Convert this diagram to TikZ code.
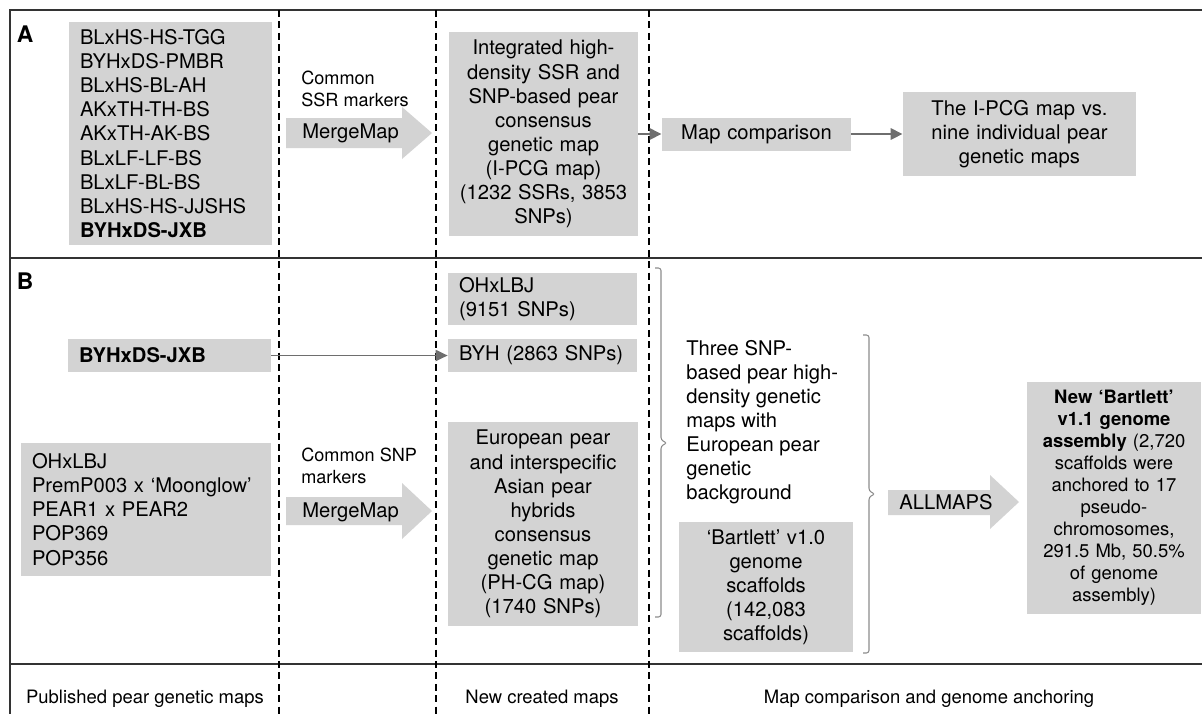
\documentclass[tikz,border=0pt]{standalone}
\usepackage{fontspec}
\setmainfont{TeX Gyre Heros}
\usetikzlibrary{arrows.meta}
\definecolor{cajagris}{HTML}{D3D3D3}
\definecolor{flechagris}{HTML}{6E6E6E}

\begin{document}
\begin{tikzpicture}[
        x=0.02cm, y=-0.02cm,
        caja/.style={fill=cajagris, inner xsep=0.22cm, inner ysep=0pt, font=\fontsize{11.5}{13.7}\selectfont},
        lista/.style={caja, align=left},
        centro/.style={caja, align=center, inner xsep=0.1cm},
        gruesa/.style={fill=cajagris},
        flecha/.style={-{Triangle[length=2.4mm,width=2.2mm]}, line width=1.6pt, draw=flechagris},
        rotulo/.style={font=\fontsize{10.3}{12.5}\selectfont, align=left, inner sep=0pt},
        grande/.style={font=\fontsize{11.5}{13.7}\selectfont, inner sep=0pt},
        marco/.style={line width=1.1pt, draw=black!80},
        divisor/.style={line width=0.9pt, dash pattern=on 4pt off 2.5pt},
        llave/.style={draw=black!45, line width=0.6pt, rounded corners=1.5pt},
        pie/.style={font=\fontsize{10.5}{12.5}\selectfont, inner sep=0pt},
        panel/.style={font=\bfseries\fontsize{13}{13}\selectfont, inner sep=0pt}
    ]
        \useasboundingbox (0,0) rectangle (1202,714);

        % marco y columnas
        \draw[marco] (1202,10) -- (10,10) -- (10,714);
        \draw[marco] (10,258) -- (1202,258);
        \draw[marco] (10,664) -- (1202,664);
        \foreach \x in {279,436,649}
            \draw[divisor] (\x,10) -- (\x,714);

        % panel A
        \node[panel] (etqA) at (25,34) {A};
        \node[lista, text width=3.62cm, minimum height=4.46cm] (mapasA) at (170.5,133.5)
            {BLxHS-HS-TGG\\BYHxDS-PMBR\\BLxHS-BL-AH\\AKxTH-TH-BS\\AKxTH-AK-BS\\BLxLF-LF-BS\\BLxLF-BL-BS\\BLxHS-HS-JJSHS\\\textbf{BYHxDS-JXB}};
        \fill[gruesa] (286,118) -- (402,118) -- (402,107) -- (432,133) -- (402,159) -- (402,148) -- (286,148) -- cycle;
        \node[rotulo, anchor=west] (comunA) at (301,89) {Common\\SSR markers};
        \node[grande, anchor=west] (mergeA) at (302,133) {MergeMap};
        \node[centro, text width=3.58cm, minimum height=4.08cm] (integrado) at (543.5,134)
            {Integrated high-\\density SSR and\\SNP-based pear\\consensus\\genetic map\\(I-PCG map)\\(1232 SSRs, 3853\\SNPs)};
        \node[centro, text width=3.58cm, minimum height=0.66cm] (comparacion) at (756.5,134) {Map comparison};
        \node[centro, text width=4.46cm, minimum height=1.68cm] (nueve) at (1019.5,134)
            {The I-PCG map vs.\\nine individual pear\\genetic maps};

        \draw[flecha] (integrado) -- (comparacion);
        \draw[flecha] (comparacion) -- (nueve);

        % panel B
        \node[panel] (etqB) at (25,281) {B};
        \node[lista, text width=3.62cm, minimum height=0.66cm] (jxb) at (169.5,355.5) {\textbf{BYHxDS-JXB}};
        \node[lista, text width=4.56cm, minimum height=2.66cm] (publicados) at (146,509.5)
            {OHxLBJ\\PremP003 x ‘Moonglow’\\PEAR1 x PEAR2\\POP369\\POP356};
        \fill[gruesa] (286,497) -- (402,497) -- (402,483) -- (432,511) -- (402,539) -- (402,525) -- (286,525) -- cycle;
        \node[rotulo, anchor=west] (comunB) at (301,466) {Common SNP\\markers};
        \node[grande, anchor=west] (mergeB) at (302,512) {MergeMap};

        \node[lista, text width=3.34cm, minimum height=1.04cm] (ohx) at (542.5,299) {OHxLBJ\\(9151 SNPs)};
        \node[lista, text width=3.34cm, minimum height=0.66cm] (byh) at (542.5,355.5) {BYH (2863 SNPs)};
        \node[centro, text width=3.6cm, minimum height=4.08cm] (europea) at (543,524)
            {European pear\\and interspecific\\Asian pear\\hybrids\\consensus\\genetic map\\(PH-CG map)\\(1740 SNPs)};

        \draw[flecha, line width=1.1pt] (jxb) -- (byh);

        % llaves
        \draw[llave] (655,268) -- (661,268) -- (661,440) -- (667,443) -- (661,446) -- (661,617) -- (655,617);
        \node[grande, align=left, anchor=west] (tres) at (686,422)
            {Three SNP-\\based pear high-\\density genetic\\maps with\\European pear\\genetic\\background};
        \node[centro, text width=3.28cm, minimum height=2.6cm] (bartlett) at (766,587)
            {‘Bartlett’ v1.0\\genome\\scaffolds\\(142,083\\scaffolds)};

        \draw[llave] (863,335) -- (869,335) -- (869,491) -- (875,494) -- (869,497) -- (869,653) -- (863,653);
        \fill[gruesa] (888,490) -- (990,490) -- (990,475) -- (1019,502) -- (990,529) -- (990,515) -- (888,515) -- cycle;
        \node[grande] (allmaps) at (946,502) {ALLMAPS};
        \node[centro, text width=3.28cm, minimum height=4.64cm, font=\fontsize{10.5}{12.5}\selectfont] (nuevo) at (1114,498)
            {\textbf{New ‘Bartlett’}\\\textbf{v1.1 genome}\\\textbf{assembly} (2,720\\scaffolds were\\anchored to 17\\pseudo-\\chromosomes,\\291.5 Mb, 50.5\%\\of genome\\assembly)};

        % pie
        \node[pie] (publ) at (145,699) {Published pear genetic maps};
        \node[pie] (creados) at (542,699) {New created maps};
        \node[pie] (anclaje) at (929,699) {Map comparison and genome anchoring};
    \end{tikzpicture}
\end{document}
